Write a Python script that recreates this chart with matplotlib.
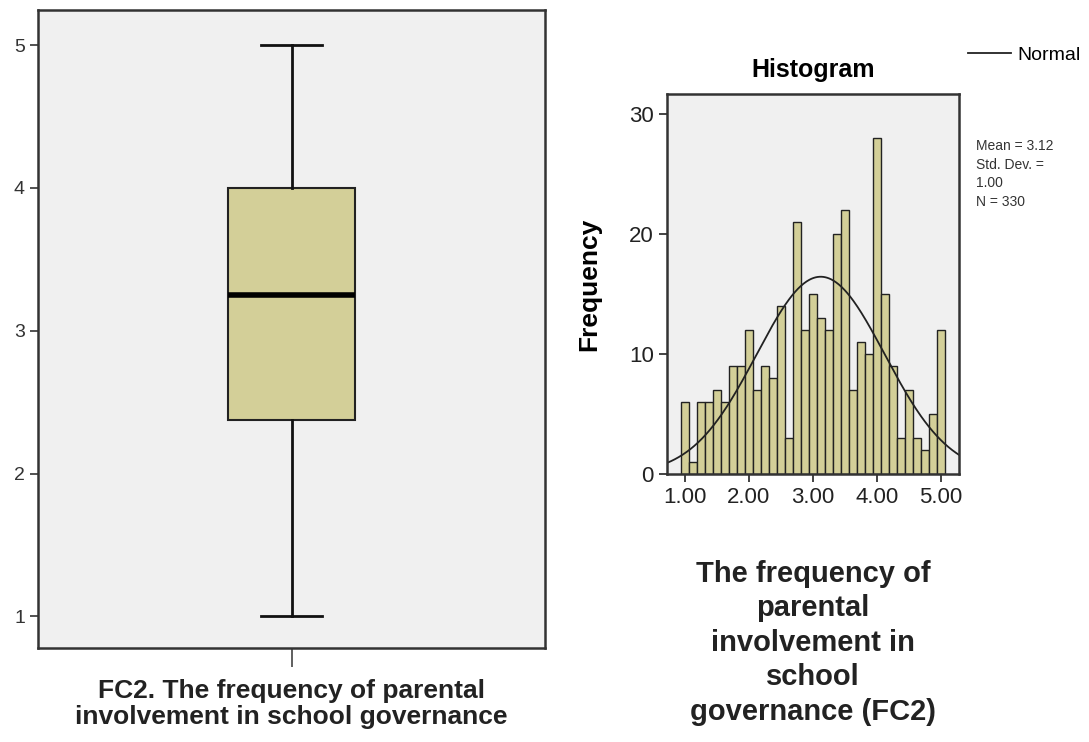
import numpy as np
import matplotlib
matplotlib.use("Agg")
from matplotlib import pyplot as plt

plt.rcParams['font.family'] = ['Liberation Sans Narrow', 'Liberation Sans', 'DejaVu Sans']

# box plot summary of FC2
box_min = 1.0
box_q1 = 2.375
box_median = 3.25
box_q3 = 4.0
box_max = 5.0

# histogram bins (width 0.125, centred on 1.000 ... 5.000)
bin_centres = [1.0 + 0.125 * k for k in range(33)]
counts = [6, 1, 6, 6, 7, 6, 9, 9, 12, 7, 9, 8, 14, 3, 21, 12, 15,
          13, 12, 20, 22, 7, 11, 10, 28, 15, 9, 3, 7, 3, 2, 5, 12]
mean = 3.12
std = 1.00
n = 330
hist_ticks = [1.0, 2.0, 3.0, 4.0, 5.0]
freq_ticks = [0, 10, 20, 30]

fill = '#d3cf98'
bg = '#f0f0f0'

fig = plt.figure(figsize=(10.89, 7.42), dpi=100)

# ---- box plot ----
ax1 = fig.add_axes([0.035, 0.127, 0.4655, 0.8595])
ax1.set_facecolor(bg)
stats = [{'med': box_median, 'q1': box_q1, 'q3': box_q3,
          'whislo': box_min, 'whishi': box_max, 'fliers': []}]
ax1.bxp(stats, positions=[1], widths=0.25, patch_artist=True,
        boxprops=dict(facecolor=fill, edgecolor='#222222', linewidth=1.5),
        medianprops=dict(color='black', linewidth=4),
        whiskerprops=dict(color='#111111', linewidth=2),
        capprops=dict(color='#111111', linewidth=2), capwidths=0.12)
ax1.set_xlim(0.5, 1.5)
ax1.set_ylim(0.78, 5.245)
ax1.set_yticks([1, 2, 3, 4, 5])
ax1.set_xticks([1])
ax1.set_xticklabels([''])
ax1.tick_params(axis='y', labelsize=14, length=6, width=1.2, colors='#333333')
ax1.tick_params(axis='x', length=14, width=1.2, colors='#444444')
for s in ax1.spines.values():
    s.set_linewidth(1.8)
    s.set_color('#333333')
ax1.set_xlabel('FC2. The frequency of parental\ninvolvement in school governance',
               fontsize=19, fontweight='bold', color='#222222', labelpad=5,
               linespacing=1.12)

# ---- histogram ----
ax2 = fig.add_axes([0.6125, 0.3612, 0.2681, 0.5121])
ax2.set_facecolor(bg)
ax2.bar(bin_centres, counts, width=0.125, color=fill, edgecolor='#222222',
        linewidth=1.0)
xlo, xhi = 0.72, 5.28
xs = np.linspace(xlo, xhi, 300)
ys = n * 0.125 * np.exp(-0.5 * ((xs - mean) / std) ** 2) / (std * np.sqrt(2 * np.pi))
line, = ax2.plot(xs, ys, color='#222222', linewidth=1.3)
ax2.set_xlim(xlo, xhi)
ax2.set_ylim(0, 31.7)
ax2.set_xticks(hist_ticks)
ax2.set_xticklabels(['%.2f' % t for t in hist_ticks])
ax2.set_yticks(freq_ticks)
ax2.tick_params(labelsize=16, length=6, width=1.2, colors='#222222')
for s in ax2.spines.values():
    s.set_linewidth(1.8)
    s.set_color('#333333')
ax2.set_title('Histogram', fontsize=18, fontweight='bold', pad=12)
ax2.set_ylabel('Frequency', fontsize=19, fontweight='bold', labelpad=20)
ax2.set_xlabel('The frequency of\nparental\ninvolvement in\nschool\ngovernance (FC2)',
               fontsize=21, fontweight='bold', color='#222222', labelpad=37,
               linespacing=1.3)

fig.legend([line], ['Normal'], loc='upper left', bbox_to_anchor=(0.882, 0.948),
           frameon=False, fontsize=14, handlelength=2.2, handletextpad=0.3,
           borderaxespad=0)
fig.text(0.896, 0.812, 'Mean = 3.12\nStd. Dev. =\n1.00\nN = 330',
         fontsize=10, va='top', ha='left', color='#333333', linespacing=1.4)

fig.savefig('out.png', dpi=100)
